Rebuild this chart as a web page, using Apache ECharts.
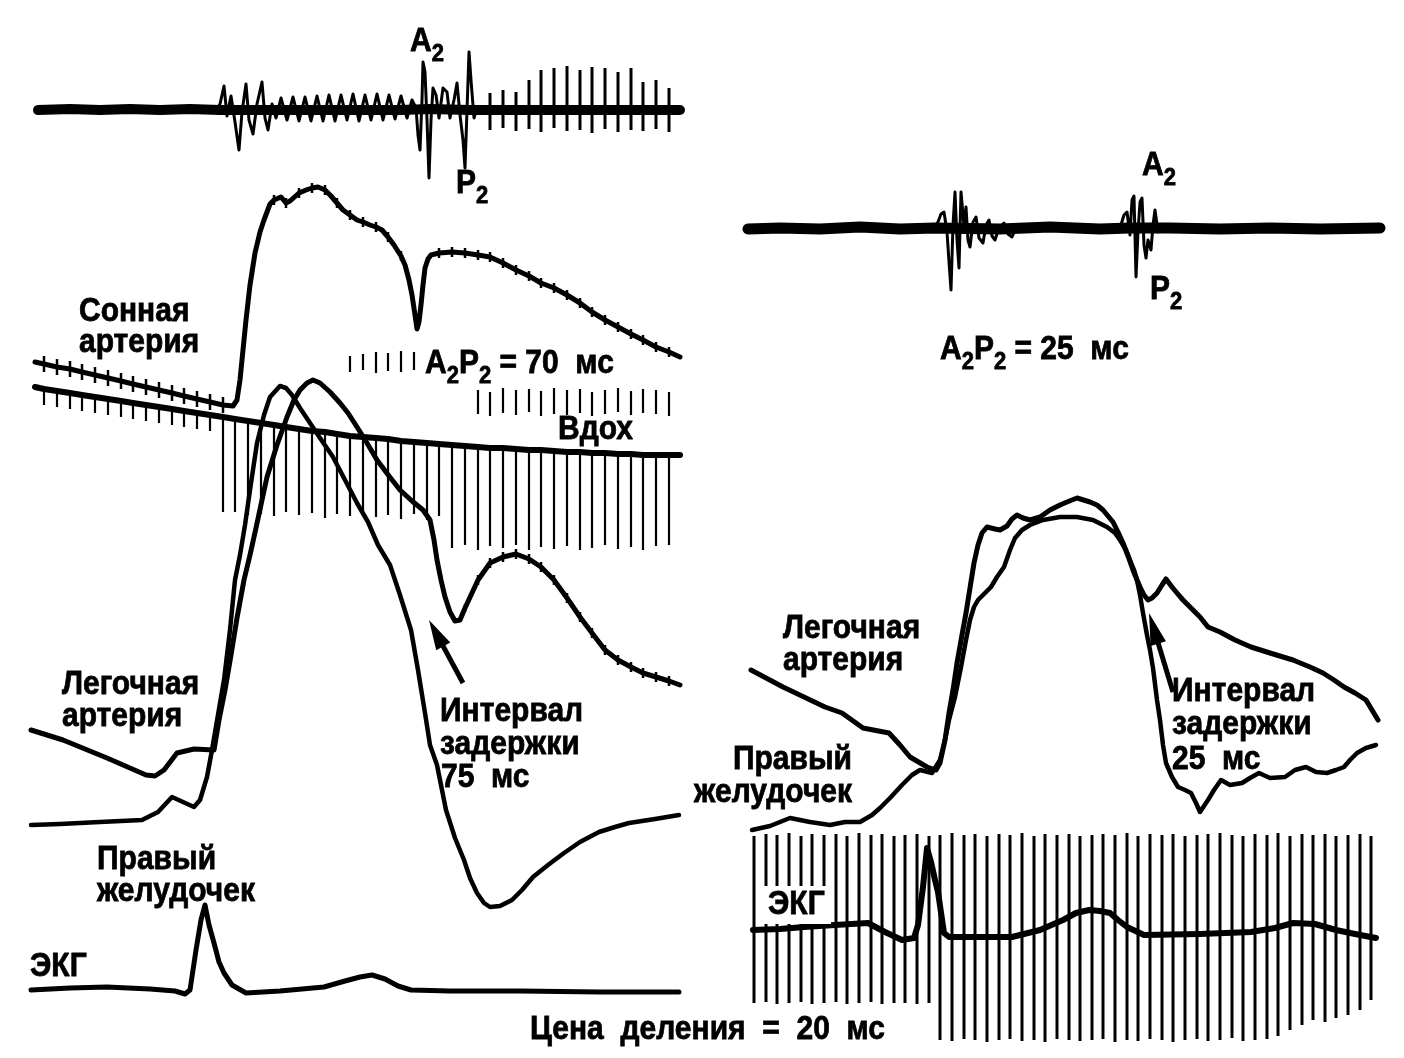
<!DOCTYPE html>
<html>
<head>
<meta charset="utf-8">
<script src="https://cdn.jsdelivr.net/npm/echarts@6.0.0/dist/echarts.min.js"></script>
<style>
html,body{margin:0;padding:0;background:#fff;}
#chart{width:1404px;height:1058px;}
</style>
</head>
<body>
<div id="chart"></div>
<script>
// ---------- DATA (record units: x = time along the record, y = deflection, downwards) ----------
// Left panel: phonocardiogram
const pcgLeftBand = [[38,110],[70,109],[100,110],[130,109],[160,110],[190,109],[220,110],[260,110],[300,110],[350,110],[400,110],[430,109],[470,110],[520,110],[580,110],[640,110],[680,110]];
const pcgLeftWave = [[216,110],[220,104],[224,86],[227,116],[231,96],[235,122],[239,150],[242,112],[246,84],[249,120],[253,134],[257,104],[262,82],[265,118],[268,130],[272,104],[276,118],[281,98],[287,120],[293,97],[299,121],[305,97],[311,121],[317,96],[323,121],[329,95],[335,121],[341,95],[347,120],[353,94],[359,121],[365,95],[371,120],[377,94],[383,120],[389,95],[395,119],[401,96],[407,118],[412,100],[416,108],[418,135],[420,150],[422,100],[423,62],[425,72],[427,120],[429,178],[431,120],[433,88],[436,95],[439,118],[443,88],[447,92],[450,118],[454,100],[457,83],[460,115],[463,140],[465,168],[467,110],[469,52],[471,80],[474,118],[477,107],[480,112]];
const pcgLeftMarkX = [490,503,516,529,541,554,567,580,592,605,618,631,643,656,669];
const pcgLeftMarkTop = [93,90,92,80,70,68,66,70,67,68,72,68,82,80,88];
const pcgLeftMarkBottom = [130,128,131,129,132,128,131,130,133,129,132,130,131,129,132];

// Left panel: carotid pulse [x, y, serration length]
const carotid = [[35,362,0],[44,364,16],[57,367,16],[70,369,16],[82,372,16],[95,375,16],[108,378,16],[121,381,16],[133,384,16],[146,387,16],[159,390,16],[172,393,16],[184,396,16],[197,399,16],[210,402,16],[223,405,16],[233,406,0],
[237,400,0],[240,380,0],[243,350,0],[246,320,0],[250,285,0],[255,253,0],[260,232,0],[264,220,0],[270,204,0],[274,200,10],[281,197,0],[286,203,10],[290,201,0],[299,193,10],[306,190,0],[312,188,10],[318,187,0],[325,190,10],[331,196,0],[337,203,10],[343,210,0],[350,215,10],[357,220,0],[363,222,10],[370,225,0],[376,227,10],[382,230,0],[388,237,10],[394,245,0],[401,256,10],[405,265,0],[409,280,0],[412,295,0],[415,315,0],[417,329,0],[419,322,0],[421,305,0],[423,285,0],[425,268,0],[428,259,0],[431,255,0],[439,253,10],[452,252,10],[465,253,10],[478,255,10],[490,257,10],[503,263,10],[516,270,10],[529,276,10],[541,283,10],[554,288,10],[567,295,10],[580,303,10],[592,312,10],[605,320,10],[618,327,10],[631,334,10],[643,340,10],[656,347,10],[669,352,10],[680,357,0]];

// Left panel: inspiration trace ("Вдох") and its time marks (20 ms)
const inspiration = [[35,387],[44,389],[57,391],[70,393],[82,395],[95,397],[108,399],[121,401],[133,403],[146,405],[159,407],[172,409],[184,411],[197,413],[210,415],[223,417],[235,419],[248,421],[261,423],[274,425],[286,427],[299,429],[312,431],[325,432],[337,434],[350,436],[363,437],[376,438],[388,439],[401,441],[414,442],[427,443],[439,444],[452,445],[465,446],[478,447],[490,448],[503,448],[516,449],[529,450],[541,450],[554,451],[567,452],[580,452],[592,453],[605,453],[618,454],[631,454],[643,455],[656,455],[669,455],[680,455]];
const inspMarkBottom = [405,407,409,411,413,415,417,419,421,423,425,427,429,431,512,512,515,514,516,512,515,513,518,514,516,512,517,515,519,514,520,516,548,545,550,546,548,545,550,547,549,546,550,548,545,549,547,550,546,545];
const upperMarkX = [350,363,376,388,401,414,478,490,503,516,529,541,554,567,580,592,605,618,631,643,656,669];
const upperMarkTop = [356,354,352,353,351,352,390,392,388,390,389,391,388,390,389,392,390,388,391,389,390,392];
const upperMarkBottom = [372,370,373,371,372,370,414,416,413,415,412,416,414,415,413,416,414,412,415,413,414,416];

// Left panel: pulmonary artery [x, y, serration length], right ventricle, ECG
const paLeft = [[31,730,0],[63,740,0],[107,758,0],[146,775,0],[155,776,0],[164,770,0],[177,753,0],[194,749,0],[214,750,0],[219,720,0],[225,690,0],[231,655,0],[237,618,0],[244,580,0],[250,555,0],[256,528,0],[262,500,0],[267,477,0],[277,445,0],[287,417,0],[294,400,0],[300,390,0],[307,383,0],[313,380,0],[320,383,0],[330,392,0],[340,403,0],[348,413,0],[357,427,0],[367,443,0],[377,460,0],[389,476,0],[400,490,0],[412,501,0],[423,510,0],[430,520,0],[434,540,0],[437,560,0],[441,580,0],[445,597,0],[450,612,0],[455,621,0],[460,620,0],[465,608,8],[478,580,10],[490,563,10],[503,557,10],[516,554,10],[529,559,10],[541,567,10],[554,580,10],[567,598,10],[580,617,10],[592,633,10],[605,650,10],[618,660,10],[631,667,10],[643,673,10],[656,677,10],[669,681,10],[680,685,0]];
const rvLeft = [[31,825],[60,824],[100,822],[142,820],[158,812],[172,797],[183,802],[194,807],[200,800],[207,777],[212,750],[218,715],[224,680],[230,630],[235,580],[240,555],[245,525],[250,490],[257,443],[264,415],[270,397],[280,386],[286,388],[292,395],[300,408],[310,423],[320,438],[333,457],[345,480],[357,503],[368,522],[378,545],[390,565],[400,595],[411,630],[418,670],[425,713],[430,745],[437,765],[446,810],[455,838],[464,860],[470,878],[477,893],[484,903],[490,907],[500,906],[512,900],[522,890],[533,877],[548,865],[564,853],[580,842],[599,832],[615,827],[629,823],[655,819],[679,815]];
const ecgLeft = [[31,990],[70,988],[107,987],[150,989],[175,991],[185,994],[190,990],[196,950],[201,920],[205,905],[209,925],[214,943],[219,962],[224,973],[232,985],[246,993],[280,991],[324,987],[345,981],[360,977],[372,975],[385,979],[398,986],[411,990],[450,991],[520,991],[600,992],[679,992]];

// Right panel: phonocardiogram
const pcgRightBand = [[748,229],[780,228],[820,229],[860,227],[900,229],[935,228],[1000,229],[1050,227],[1100,229],[1130,228],[1170,228],[1220,229],[1270,228],[1320,229],[1380,228]];
const pcgRightWave = [[934,228],[938,222],[941,214],[944,212],[947,232],[949,262],[951,290],[953,225],[955,192],[957,240],[959,268],[961,192],[964,226],[966,207],[968,240],[970,247],[973,222],[976,217],[979,238],[983,243],[986,225],[989,220],[992,236],[995,240],[999,228],[1004,223],[1008,234],[1012,237],[1016,228],[1120,228],[1124,215],[1127,212],[1130,235],[1132,200],[1134,196],[1136,277],[1138,232],[1140,202],[1142,198],[1144,245],[1146,258],[1148,240],[1151,250],[1153,225],[1155,210],[1158,232],[1162,228]];

// Right panel: pulmonary artery, right ventricle, ECG and its time marks
const paRight = [[751,670],[783,687],[825,707],[842,713],[863,728],[889,733],[900,745],[910,757],[927,767],[936,770],[940,763],[945,740],[949,713],[953,690],[957,663],[962,635],[966,613],[970,588],[974,563],[978,545],[982,533],[987,527],[995,529],[1000,530],[1007,526],[1012,519],[1017,515],[1023,518],[1030,520],[1040,517],[1050,510],[1060,505],[1067,502],[1077,498],[1090,502],[1097,505],[1103,510],[1108,516],[1113,522],[1118,532],[1123,543],[1128,556],[1133,570],[1137,580],[1140,587],[1144,595],[1148,600],[1152,598],[1157,593],[1162,585],[1166,579],[1172,587],[1177,593],[1183,600],[1190,607],[1200,617],[1208,627],[1220,632],[1235,640],[1251,647],[1270,653],[1293,660],[1310,667],[1323,673],[1334,680],[1344,687],[1355,693],[1366,700],[1372,710],[1378,720]];
const rvRight = [[752,830],[770,826],[790,818],[810,822],[830,825],[845,822],[860,822],[872,815],[880,808],[890,798],[902,785],[912,775],[920,770],[932,773],[940,760],[945,740],[949,720],[955,697],[961,667],[966,640],[970,620],[974,607],[978,600],[984,594],[991,587],[997,577],[1004,567],[1010,550],[1015,538],[1022,530],[1030,525],[1043,520],[1060,517],[1077,517],[1093,520],[1107,527],[1115,533],[1120,540],[1126,550],[1130,560],[1134,570],[1137,580],[1140,595],[1143,613],[1147,635],[1150,650],[1153,668],[1157,700],[1160,720],[1163,745],[1166,763],[1172,777],[1178,787],[1185,790],[1191,793],[1196,803],[1200,812],[1204,806],[1208,800],[1214,790],[1221,780],[1230,785],[1242,783],[1250,778],[1259,773],[1270,778],[1285,777],[1295,770],[1306,767],[1316,772],[1327,773],[1336,770],[1344,767],[1350,760],[1357,753],[1366,748],[1376,745]];
const ecgRight = [[753,930],[780,929],[804,927],[835,925],[868,923],[885,932],[902,940],[914,938],[918,925],[923,887],[927,848],[931,862],[935,880],[938,892],[944,933],[949,937],[980,937],[1012,937],[1040,930],[1063,920],[1076,913],[1089,910],[1100,911],[1110,913],[1118,920],[1127,927],[1144,935],[1200,934],[1251,932],[1275,928],[1293,923],[1315,924],[1336,930],[1355,934],[1376,938]];
const ecgRightMarkX = [754,766,777,789,801,812,824,836,847,859,871,882,894,905,917,929,940,952,964,975,987,999,1010,1022,1034,1045,1057,1069,1080,1092,1103,1115,1127,1138,1150,1162,1173,1185,1197,1208,1220,1232,1243,1255,1267,1278,1290,1302,1313,1325,1336,1348,1360,1371];
const ecgRightMarkTop = [836,834,835,833,836,834,835,834,836,833,835,834,836,835,834,836,835,833,835,834,836,834,835,833,836,834,835,834,836,835,834,835,833,836,834,835,834,836,835,834,833,835,836,834,835,833,836,834,835,834,836,835,834,836];
const ecgRightMarkBottom = [1003,1002,1004,1003,1002,1004,1003,1002,1004,1003,1002,1004,1003,1003,1004,1003,1040,1041,1039,1040,1042,1040,1039,1041,1040,1042,1039,1040,1041,1040,1039,1042,1040,1041,1039,1040,1042,1040,1039,1041,1040,1038,1041,1040,1039,1036,1030,1025,1020,1022,1018,1015,1010,1000];

// ---------- CHART ----------
const FAM = '"Liberation Sans", Arial, sans-serif';
const FONT = 'bold 30px ' + FAM;
const SUBFONT = 'bold 22px ' + FAM;

function trace(data, width, extra) {
  return Object.assign({
    type: 'line', data: data, silent: true, showSymbol: false, symbol: 'none',
    lineStyle: { color: '#000', width: width, cap: 'round', join: 'round' },
    z: 3
  }, extra || {});
}
function serrated(data, width) {
  return trace(data, width, {
    showSymbol: true, symbol: 'rect',
    symbolSize: function (v) { return v[2] ? [2.5, v[2]] : 0; },
    itemStyle: { color: '#000' }
  });
}
function comb(xs, tops, bottoms, width) {
  return {
    type: 'custom', silent: true, z: 2,
    data: xs.map(function (x, i) { return [x, tops[i], bottoms[i]]; }),
    encode: { x: 0, y: [1, 2] },
    renderItem: function (params, api) {
      const a = api.coord([api.value(0), api.value(1)]);
      const b = api.coord([api.value(0), api.value(2)]);
      return { type: 'line', shape: { x1: a[0], y1: a[1], x2: b[0], y2: b[1] },
               style: { stroke: '#000', lineWidth: width } };
    }
  };
}

const inspTicks = inspiration.slice(1, -1);

const series = [
  comb(inspTicks.map(p => p[0]), inspTicks.map(p => p[1]), inspMarkBottom, 2.2),
  comb(upperMarkX, upperMarkTop, upperMarkBottom, 2.2),
  comb(ecgRightMarkX, ecgRightMarkTop, ecgRightMarkBottom, 3),
  comb(pcgLeftMarkX, pcgLeftMarkTop, pcgLeftMarkBottom, 3),
  trace(pcgLeftBand, 10),
  trace(pcgLeftWave, 3),
  serrated(carotid, 5),
  trace(inspiration, 6),
  serrated(paLeft, 5),
  trace(rvLeft, 4.5),
  trace(ecgLeft, 5),
  trace(pcgRightBand, 11),
  trace(pcgRightWave, 3),
  trace(paRight, 5),
  trace(rvRight, 4.5),
  trace(ecgRight, 6)
];

// ---------- annotation text ----------
const mctx = document.createElement('canvas').getContext('2d');
function tw(t, f) { mctx.font = f; return mctx.measureText(t).width; }
function label(x, y, parts, alignRight) {
  // parts: [text, isSubscript]
  const els = [];
  let total = 0;
  parts.forEach(function (p) { total += tw(p[0], p[1] ? SUBFONT : FONT); });
  let cx = alignRight ? x - total : x;
  parts.forEach(function (p) {
    const f = p[1] ? SUBFONT : FONT;
    els.push({ type: 'text', x: cx, y: p[1] ? y + 12 : y, z: 20, scaleY: 1.12,
      style: { text: p[0], font: f, fill: '#000', stroke: '#000', lineWidth: 0.7,
               verticalAlign: 'middle', align: 'left' } });
    cx += tw(p[0], f);
  });
  return els;
}
function arrow(tip, tail, headLen, halfW, shaftW) {
  const dx = tip[0] - tail[0], dy = tip[1] - tail[1];
  const L = Math.sqrt(dx * dx + dy * dy);
  const ux = dx / L, uy = dy / L, px = -uy, py = ux;
  const bx = tip[0] - ux * headLen, by = tip[1] - uy * headLen;
  return [
    { type: 'line', z: 20, shape: { x1: tail[0], y1: tail[1], x2: bx + ux * 4, y2: by + uy * 4 },
      style: { stroke: '#000', lineWidth: shaftW } },
    { type: 'polygon', z: 20, shape: { points: [tip, [bx + px * halfW, by + py * halfW], [bx - px * halfW, by - py * halfW]] },
      style: { fill: '#000' } }
  ];
}

let graphics = [];
const T = function (x, y, parts, r) { graphics = graphics.concat(label(x, y, parts, r)); };
// left panel
T(410, 42, [['A', 0], ['2', 1]]);
T(456, 184, [['P', 0], ['2', 1]]);
T(79, 312, [['Сонная', 0]]);
T(79, 343, [['артерия', 0]]);
T(425, 364, [['A', 0], ['2', 1], ['P', 0], ['2', 1], [' = 70  мс', 0]]);
T(558, 430, [['Вдох', 0]]);
T(62, 685, [['Легочная', 0]]);
T(62, 717, [['артерия', 0]]);
T(440, 712, [['Интервал', 0]]);
T(440, 745, [['задержки', 0]]);
T(441, 778, [['75  мс', 0]]);
T(97, 860, [['Правый', 0]]);
T(97, 892, [['желудочек', 0]]);
T(30, 967, [['ЭКГ', 0]]);
T(530, 1030, [['Цена  деления  =  20  мс', 0]]);
// right panel
T(1142, 166, [['A', 0], ['2', 1]]);
T(1150, 290, [['P', 0], ['2', 1]]);
T(940, 350, [['A', 0], ['2', 1], ['P', 0], ['2', 1], [' = 25  мс', 0]]);
T(783, 629, [['Легочная', 0]]);
T(783, 661, [['артерия', 0]]);
T(852, 760, [['Правый', 0]], true);
T(852, 793, [['желудочек', 0]], true);
T(1172, 692, [['Интервал', 0]]);
T(1172, 725, [['задержки', 0]]);
T(1172, 760, [['25  мс', 0]]);
graphics.push({ type: 'rect', z: 19, shape: { x: 763, y: 886, width: 68, height: 38 }, style: { fill: '#fff' } });
T(768, 905, [['ЭКГ', 0]]);
graphics = graphics.concat(arrow([429, 620], [463, 683], 30, 8, 5));
graphics = graphics.concat(arrow([1149, 613], [1173, 692], 32, 8, 5));

const chart = echarts.init(document.getElementById('chart'), null, { renderer: 'canvas' });
chart.setOption({
  animation: false,
  backgroundColor: '#fff',
  grid: { left: 0, right: 0, top: 0, bottom: 0 },
  xAxis: { type: 'value', min: 0, max: 1404, show: false },
  yAxis: { type: 'value', min: 0, max: 1058, inverse: true, show: false },
  series: series,
  graphic: graphics
});
</script>
</body>
</html>
